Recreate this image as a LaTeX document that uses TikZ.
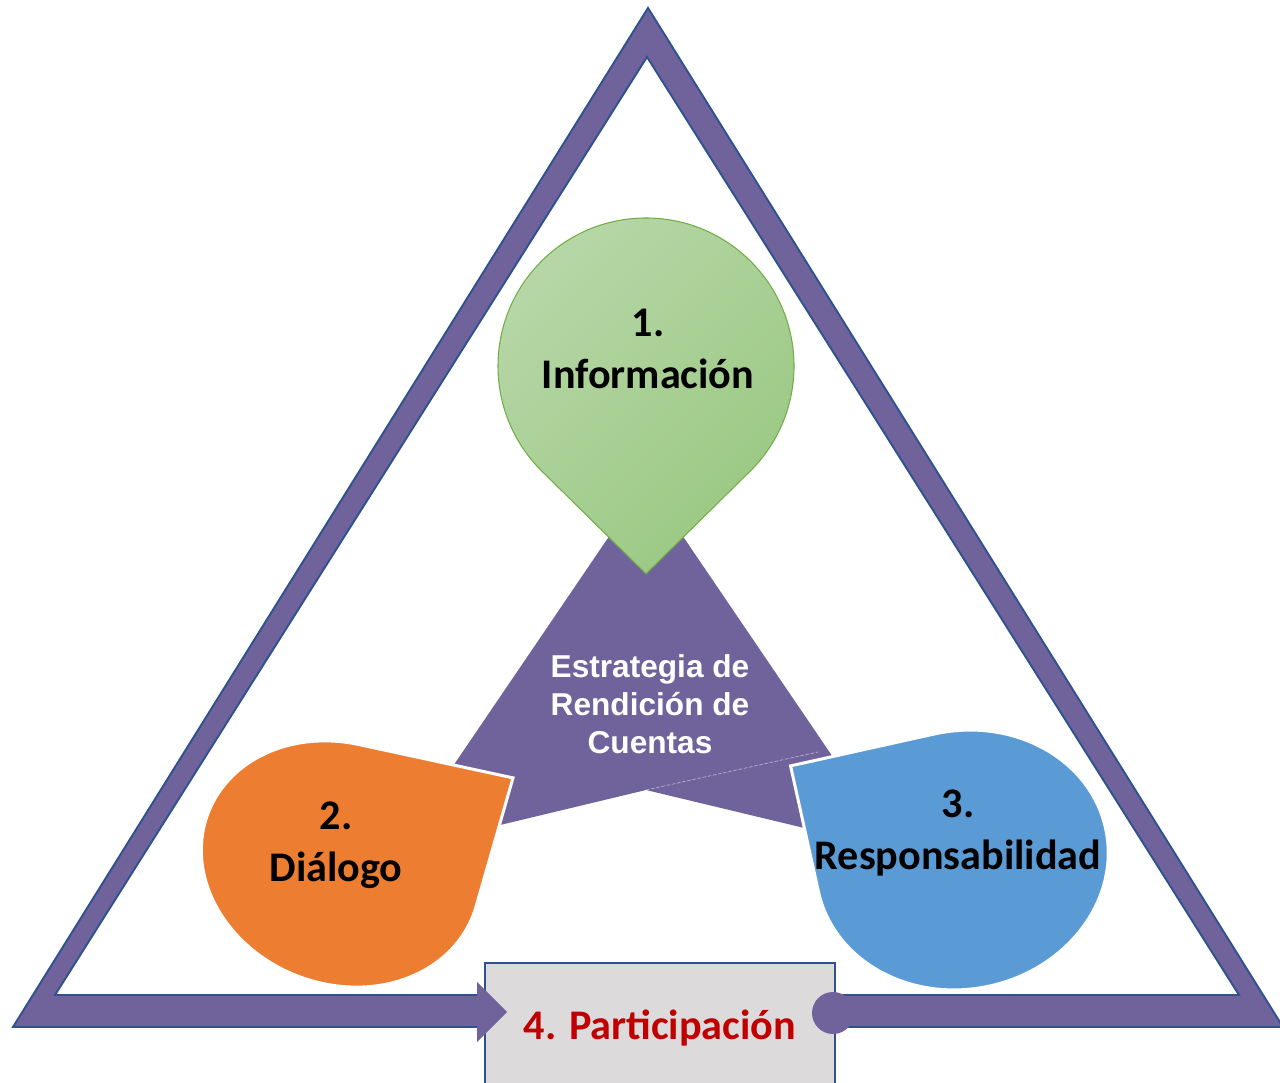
\documentclass[tikz,border=0pt]{standalone}
\usepackage{fontspec}
\setmainfont{Carlito}
\newfontfamily\arialfont{Liberation Sans}
\definecolor{bandpurple}{RGB}{112,99,155}
\definecolor{edgeblue}{RGB}{47,82,143}
\definecolor{dropgreenA}{RGB}{183,215,168}
\definecolor{dropgreenB}{RGB}{154,200,130}
\definecolor{greenedge}{RGB}{112,173,71}
\definecolor{droporange}{RGB}{237,125,49}
\definecolor{dropblue}{RGB}{91,155,213}
\definecolor{boxgray}{RGB}{220,218,219}
\definecolor{partred}{RGB}{192,0,0}
\tikzset{
  band/.style={fill=bandpurple,draw=edgeblue,line width=1.1pt,even odd rule},
  droplabel/.style={font=\fontsize{24}{29.5}\selectfont\bfseries,align=center,text=black},
  partbox/.style={draw=edgeblue,line width=1.2pt,fill=boxgray,minimum width=7cm,minimum height=2.6cm,
    text=partred,font=\fontsize{24}{29}\selectfont\bfseries},
}
% #1 centre, #2 rotation, #3/#4 radii, #5/#6 tip (local), #7/#8 arc angles, #9 style
\newcommand{\teardrop}[9]{%
  \path[#9,shift={(#1)},rotate=#2] (#5,#6) -- (#7:#3 and #4)
    arc[start angle=#7,end angle=#8,x radius=#3,y radius=#4] -- cycle;}
\begin{document}
\begin{tikzpicture}[x=0.02cm,y=0.02cm]
\useasboundingbox (0,0) rectangle (1280,1082);
% outer triangle band
\path[band] (648,1074) -- (13,55) -- (1283,55) -- cycle (647,1025) -- (55,87) -- (1239,87) -- cycle;
% participation box, arrow head and round end
\node[partbox] (part) at (660,54) {4. Participación};
\fill[bandpurple] (477,100) -- (507,70) -- (477,40) -- cycle;
\fill[bandpurple] (833,69) circle[radius=21];
% centre
\fill[bandpurple] (646,600) -- (396,232) -- (646,292) -- (896,232) -- cycle;
\draw[white,opacity=.5,line width=.4pt,dash pattern=on 2pt off 1pt] (646,292) -- (818,330);
\node[font=\arialfont\fontsize{18}{21.8}\selectfont\bfseries,text=white,align=center] (strat) at (650,378)
  {Estrategia de\\Rendición de\\Cuentas};
% the three drops
\teardrop{646,716}{-135}{148}{148}{147}{147}{90}{360}{draw=greenedge,line width=.6pt,top color=dropgreenA,bottom color=dropgreenB,shading angle=45}
\teardrop{340.7,218}{-21.2}{142}{120}{129.5}{142.6}{100}{365}{fill=droporange,draw=white,line width=1.7pt}
\teardrop{962,222}{102.5}{129}{147}{129}{147}{90}{360}{fill=dropblue,draw=white,line width=1.7pt}
\node[droplabel] (info) at (648,733) {1.\\Información};
\node[droplabel] (dial) at (336,237) {2.\\Diálogo};
\node[droplabel] (resp) at (958,249) {3.\\Responsabilidad};
\end{tikzpicture}
\end{document}
